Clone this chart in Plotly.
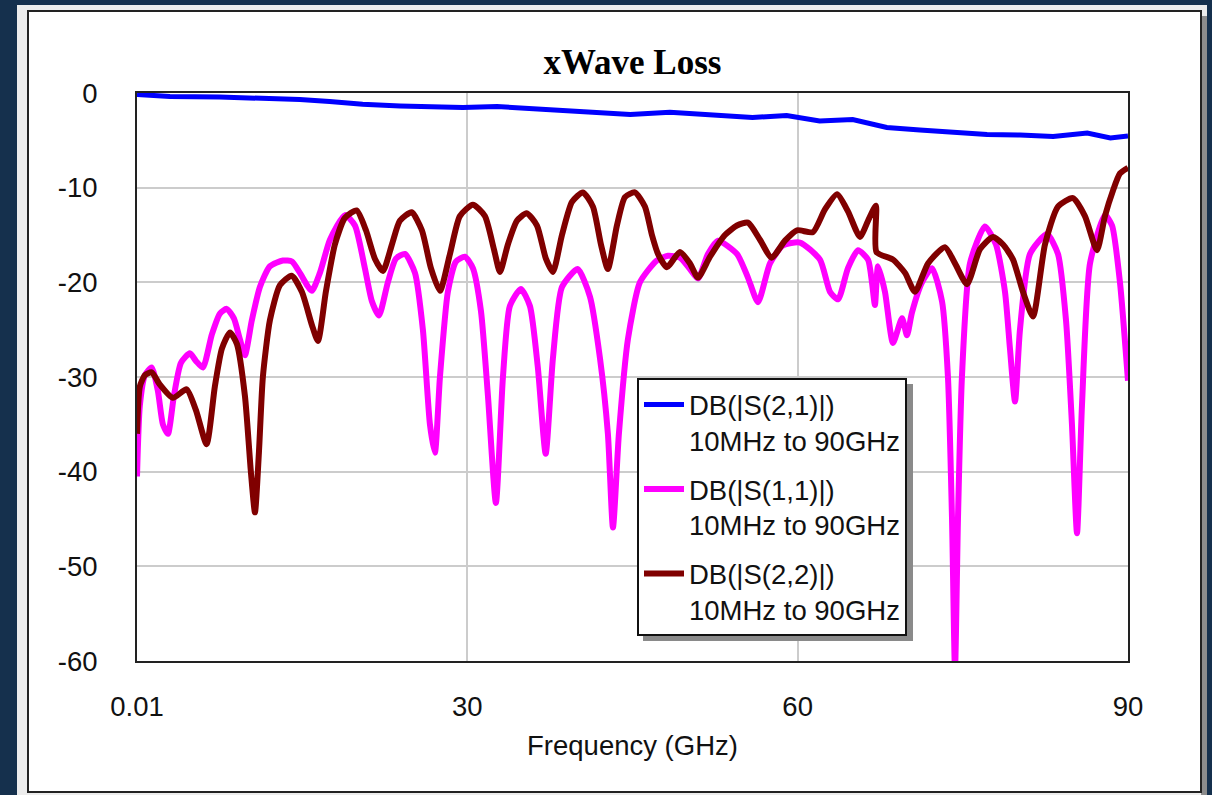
import plotly.graph_objects as go

# ---------------- data ----------------
freq_s21 = [0.01, 3.0, 7.5, 11.6, 14.8, 17.5, 20.5, 23.9, 26.6, 29.6, 32.7, 37.2, 41.8, 44.8,
            48.4, 52.9, 55.9, 59.0, 62.0, 65.0, 68.1, 71.1, 74.1, 77.2, 80.2, 83.2, 86.3, 88.4, 90.0]
s21_db = [-0.15, -0.37, -0.42, -0.53, -0.69, -0.9, -1.2, -1.37, -1.43, -1.53, -1.43, -1.74, -2.1, -2.27,
          -2.03, -2.38, -2.59, -2.38, -2.96, -2.8, -3.65, -3.9, -4.18, -4.39, -4.44, -4.6, -4.23, -4.76, -4.55]

freq_s11 = [0.01, 0.27, 0.73, 1.34, 1.91, 2.36, 2.82, 3.36, 4.0, 4.81, 5.36, 5.99, 6.81, 7.54, 8.15,
            8.81, 9.35, 9.81, 10.44, 11.17, 12.08, 13.26, 14.08, 14.8, 15.87, 16.62, 17.53, 18.89,
            19.8, 20.7, 21.34, 21.98, 22.79, 23.52, 24.34, 25.25, 25.97, 26.61, 27.06, 27.52, 28.24,
            28.97, 29.79, 30.51, 31.24, 31.88, 32.6, 33.24, 33.87, 34.87, 35.69, 36.41, 37.12, 37.78,
            38.6, 40.02, 41.14, 42.05, 42.77, 43.23, 43.77, 44.59, 45.68, 47.2, 48.22, 49.31, 50.22,
            50.95, 51.86, 52.76, 54.49, 55.49, 56.4, 57.49, 58.67, 60.21, 62.03, 62.94, 63.67, 64.57,
            65.48, 66.39, 66.75, 67.02, 67.3, 67.93, 68.66, 69.48, 69.93, 70.38, 71.29, 72.2, 73.11,
            73.65, 74.02, 74.29, 74.56, 74.92, 75.65, 77.01, 78.01, 78.83, 79.28, 79.74, 80.19, 81.1,
            82.64, 83.64, 84.37, 84.91, 85.37, 85.82, 86.55, 87.91, 88.55, 89.27, 90.0]
s11_db = [-40.5, -33, -29.8, -29.0, -31.5, -35, -36.0, -32, -28.5, -27.5, -28.3, -29.0, -25.5, -23.3, -22.8,
          -23.8, -26, -27.7, -24, -20.5, -18.3, -17.7, -17.8, -19, -20.9, -19, -15.5, -12.9,
          -14, -18.5, -22, -23.5, -20, -17.5, -17.0, -19, -25, -35, -38.0, -30, -21,
          -17.8, -17.3, -18.5, -23, -32, -43.3, -30, -22.5, -20.7, -22.5, -29, -38.1, -28,
          -20.5, -18.6, -21.5, -28, -36, -45.9, -36, -26, -20, -17.7, -17.2, -17.4, -18.6,
          -19.6, -17, -15.6, -17.0, -19.5, -22.1, -18, -16.1, -15.8, -17.6, -21.0, -21.8, -18.5,
          -16.6, -17.6, -20, -22.4, -18.3, -21, -26.4, -23.8, -25.6, -23.2, -20, -18.5, -22,
          -30, -45, -61, -45, -30, -18, -14.1, -16, -21, -27, -32.6, -25, -17,
          -14.9, -17, -24, -35, -46.5, -33, -18, -12.9, -14, -20, -30.4]

freq_s22 = [0.01, 0.27, 0.73, 1.34, 2.09, 3.27, 4.51, 5.36, 6.33, 7.08, 7.72, 8.45, 9.08, 9.81, 10.35,
            10.72, 11.08, 11.44, 12.08, 12.99, 14.05, 14.98, 15.89, 16.44, 17.16, 17.98, 18.89, 19.95,
            20.8, 21.61, 22.34, 23.16, 23.88, 24.95, 25.88, 26.7, 27.52, 28.43, 29.33, 30.51, 31.6,
            32.42, 32.97, 33.69, 34.51, 35.39, 36.33, 37.14, 37.78, 38.6, 39.51, 40.5, 41.41, 42.14,
            42.77, 43.59, 44.32, 45.22, 46.13, 46.77, 47.32, 48.13, 49.31, 50.22, 50.95, 52.04, 53.4,
            54.49, 55.49, 56.58, 57.64, 58.85, 59.94, 61.39, 62.48, 63.58, 64.57, 65.66, 66.39, 67.11,
            67.16, 68.66, 69.75, 70.66, 71.84, 73.38, 74.29, 75.38, 76.56, 77.74, 78.65, 79.56, 80.46,
            81.37, 82.46, 83.64, 85.0, 86.09, 87.18, 87.91, 88.64, 89.27, 90.0]
s22_db = [-36, -31, -29.8, -29.5, -30.8, -32.2, -31.3, -33.5, -37.1, -31, -27, -25.3, -26.5, -32, -40,
          -44.3, -38, -30, -24, -20.3, -19.3, -21, -24.5, -26.2, -21, -16, -13.2, -12.4,
          -14.5, -17.5, -18.8, -16, -13.5, -12.6, -14.5, -18.5, -20.9, -17, -13, -11.8, -13,
          -16.5, -18.9, -16, -13.5, -12.7, -14, -17.5, -18.9, -15, -11.5, -10.5, -12, -16,
          -18.6, -14, -11, -10.5, -12, -15, -17, -18.4, -16.8, -18, -19.5, -17.3, -15,
          -14, -13.7, -15.5, -17.4, -15.6, -14.5, -14.7, -12.3, -10.7, -12.5, -15.2, -13.5, -11.9,
          -16.8, -17.6, -19, -21.0, -18, -16.3, -18, -20.2, -16.5, -15.2, -16, -17.6, -21,
          -23.6, -16, -12, -11.1, -13, -16.6, -13, -10.3, -8.5, -7.9]

series_names = ["DB(|S(2,1)|)<br>10MHz to 90GHz",
                "DB(|S(1,1)|)<br>10MHz to 90GHz",
                "DB(|S(2,2)|)<br>10MHz to 90GHz"]
x_ticks = [0.01, 30, 60, 90]
x_tick_labels = ["0.01", "30", "60", "90"]
y_ticks = [0, -10, -20, -30, -40, -50, -60]
y_tick_labels = ["0", "-10", "-20", "-30", "-40", "-50", "-60"]

# ---------------- layout geometry ----------------
W, H = 1212, 795
ML, MR, MT, MB = 137, 84, 93, 134
PW, PH = W - ML - MR, H - MT - MB


def px_x(p):
    return (p - ML) / PW


def px_y(p):
    return (H - MB - p) / PH


FONT = "Liberation Sans, Arial, sans-serif"
FS = 27.5

fig = go.Figure()
fig.add_trace(go.Scatter(x=freq_s21, y=s21_db, mode="lines", name=series_names[0],
                         legendgroup="a", line=dict(color="#0000ff", width=5)))
fig.add_trace(go.Scatter(x=freq_s11, y=s11_db, mode="lines", name=series_names[1],
                         legendgroup="b",
                         line=dict(color="#ff00ff", width=6, shape="spline", smoothing=0.6)))
fig.add_trace(go.Scatter(x=freq_s22, y=s22_db, mode="lines", name=series_names[2],
                         legendgroup="c",
                         line=dict(color="#800000", width=6, shape="spline", smoothing=0.6)))

shapes = [
    # light outer frame band
    dict(type="rect", xref="paper", yref="paper", layer="below",
         x0=px_x(17), x1=px_x(1207), y0=px_y(800), y1=px_y(5),
         fillcolor="#ececec", line=dict(width=0)),
    # right drop shadow of the panel
    dict(type="rect", xref="paper", yref="paper", layer="below",
         x0=px_x(1201), x1=px_x(1207), y0=px_y(800), y1=px_y(16),
         fillcolor="#8c8c8c", line=dict(width=0)),
    # white panel with black border
    dict(type="rect", xref="paper", yref="paper", layer="below",
         x0=px_x(28), x1=px_x(1201), y0=px_y(792), y1=px_y(11),
         fillcolor="white", line=dict(color="#222222", width=2)),
    # legend drop shadow
    dict(type="rect", xref="paper", yref="paper", layer="above",
         x0=px_x(643), x1=px_x(913), y0=px_y(641), y1=px_y(384),
         fillcolor="#8a8a8a", line=dict(width=0)),
]

fig.update_layout(
    width=W, height=H,
    margin=dict(l=ML, r=MR, t=MT, b=MB, pad=0),
    paper_bgcolor="#15304d",
    plot_bgcolor="white",
    shapes=shapes,
    title=dict(text="<b>xWave Loss</b>", x=px_x((ML + W - MR) / 2), xref="paper", xanchor="center",
               y=1 - 62 / H, yref="container", yanchor="middle",
               font=dict(family="Liberation Serif, Times New Roman, serif", size=35, color="black")),
    font=dict(family=FONT, size=FS, color="#111111"),
    showlegend=True,
    legend=dict(x=px_x(637), y=px_y(378), xanchor="left", yanchor="top",
                bgcolor="white", bordercolor="#111111", borderwidth=2,
                font=dict(family=FONT, size=FS, color="#111111"),
                valign="top", tracegroupgap=10, traceorder="grouped", itemwidth=40),
    xaxis=dict(range=[0.01, 90], tickmode="array", tickvals=x_ticks, ticktext=x_tick_labels,
               showgrid=True, gridcolor="#cccccc", gridwidth=2, zeroline=False,
               showline=True, linecolor="#222222", linewidth=2, mirror=True,
               ticks="outside", ticklen=20, tickcolor="rgba(0,0,0,0)",
               title=dict(text="Frequency (GHz)", standoff=15,
                          font=dict(family=FONT, size=FS, color="#111111"))),
    yaxis=dict(range=[-60, 0], tickmode="array", tickvals=y_ticks, ticktext=y_tick_labels,
               showgrid=True, gridcolor="#cccccc", gridwidth=2, zeroline=False,
               showline=True, linecolor="#222222", linewidth=2, mirror=True,
               ticks="outside", ticklen=32, tickcolor="rgba(0,0,0,0)"),
)

fig.write_html("out.html")
